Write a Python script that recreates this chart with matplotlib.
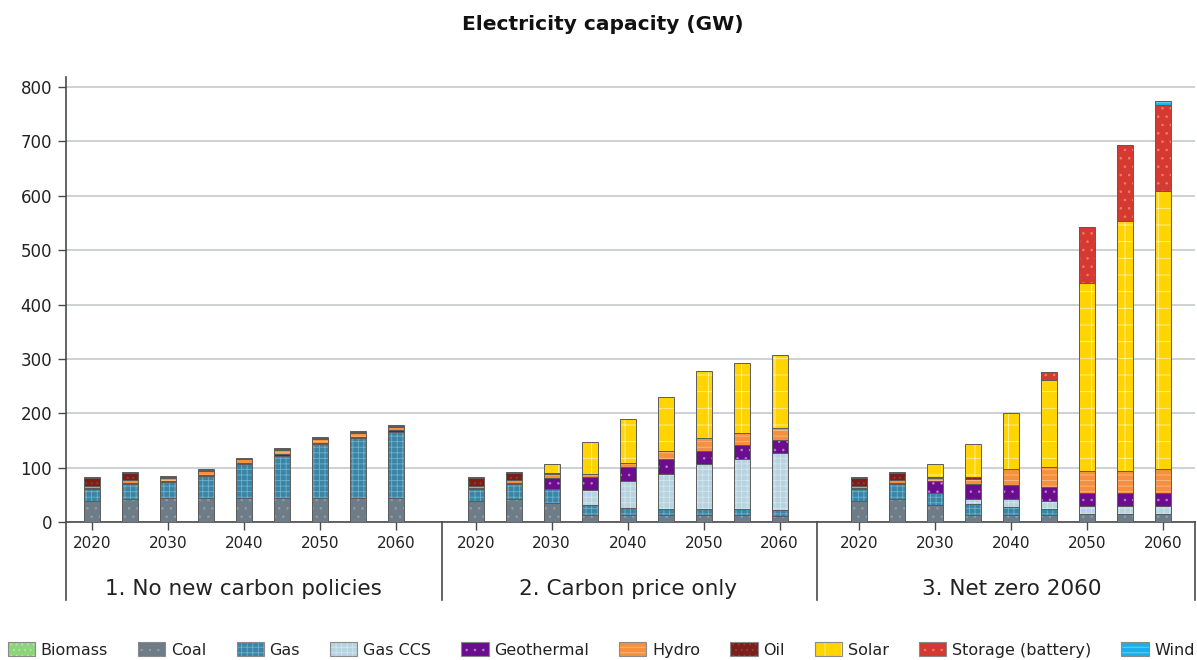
import numpy as np
import matplotlib.pyplot as plt
from matplotlib.patches import Patch
from matplotlib.legend_handler import HandlerTuple
from matplotlib.transforms import blended_transform_factory

plt.rcParams['font.family'] = ['DejaVu Sans']
plt.rcParams['hatch.linewidth'] = 0.6

years = [2020, 2025, 2030, 2035, 2040, 2045, 2050, 2055, 2060]
scenarios = ["1. No new carbon policies", "2. Carbon price only", "3. Net zero 2060"]

# GW, 9 years per scenario (rows: scenario 1, 2, 3)
coal = [38, 43, 45, 45, 44, 44, 44, 44, 44,
        38, 43, 35, 12, 13, 13, 13, 13, 11,
        38, 43, 31, 13, 13, 13, 14, 14, 14]
gas = [22, 26, 28, 40, 62, 77, 100, 111, 121,
       22, 26, 25, 20, 13, 11, 11, 11, 11.5,
       22, 26, 22, 20, 15, 11, 0, 0, 0]
gas_ccs = [0, 0, 0, 0, 0, 0, 0, 0, 0,
           0, 0, 0, 26, 49, 64, 83, 92, 104,
           0, 0, 0, 10, 15, 15, 15, 15, 15]
geothermal = [2, 3, 3, 2, 2, 4, 2, 2, 4,
              2, 3, 21, 24, 26, 27, 24, 25, 24,
              2, 3, 22, 26, 25, 25, 25, 24, 24]
hydro = [4, 5, 5, 7, 7, 7, 7, 7, 6,
         4, 5, 7, 6, 7, 15, 23, 22, 22,
         4, 5, 6, 11, 30, 38, 39, 40, 45]
oil = [15, 14, 2, 1.5, 1, 2, 1, 1, 1,
       15, 14, 2, 0, 0, 0, 0, 0, 0,
       15, 14, 2, 3, 0, 0, 0, 0, 0]
solar = [0, 0, 0, 0, 0, 0, 0, 0, 0,
         0, 0, 17, 59, 82, 99, 123, 130, 134,
         0, 0, 24, 60, 102, 160, 347, 461, 511]
storage = [0, 0, 0, 0, 0, 0, 0, 0, 0,
           0, 0, 0, 0, 0, 0, 0, 0, 0,
           0, 0, 0, 0, 0, 14, 103, 139, 158]
wind = [0, 0, 0, 0, 0, 0, 0, 0, 0,
        0, 0, 0, 0, 0, 0, 0, 0, 0,
        0, 0, 0, 0, 0, 0, 0, 0, 7.5]
biomass = [1.5, 1.5, 1.5, 1.5, 1.5, 1.5, 1.5, 1.5, 1.5,
           1.5, 1.5, 0, 0, 0, 0, 0, 0, 0,
           1.5, 1.5, 0, 0, 0, 0, 0, 0, 0]

# name, values, fill, hatch, hatch colour  (stack order bottom -> top)
series = [
    ("Coal", coal, "#6d7c87", "..", "#8f9ca6"),
    ("Gas", gas, "#3a85a5", "+++", "#70afca"),
    ("Gas CCS", gas_ccs, "#b6d3df", "+++", "#d3e6ee"),
    ("Geothermal", geothermal, "#6a0e8e", "..", "#b57fcf"),
    ("Hydro", hydro, "#f4903e", "---", "#f9bd8a"),
    ("Oil", oil, "#7c1f1c", "...", "#9b3c36"),
    ("Solar", solar, "#ffd400", "+", "#fff3a6"),
    ("Storage (battery)", storage, "#d5392f", "..", "#ec7d74"),
    ("Wind", wind, "#1eaee9", "---", "#78d3f5"),
    ("Biomass", biomass, "#8ed47a", "...", "#b7e8a8"),
]
legend_order = ["Biomass", "Coal", "Gas", "Gas CCS", "Geothermal", "Hydro",
                "Oil", "Solar", "Storage (battery)", "Wind"]

outline = "#5c5c5c"
grid_c = "#c9ced3"
axis_c = "#4a4a4a"
text_c = "#222222"

fig = plt.figure(figsize=(11.97, 6.6), dpi=100)
W, H = 1197, 660
ax = fig.add_axes([66 / W, (H - 522) / H, (1195 - 66) / W, (522 - 77) / H])

n = len(years)
x = np.array([g * 10.1 + i for g in range(len(scenarios)) for i in range(n)])
width = 0.42

bottom = np.zeros(len(x))
for name, vals, fc, hatch, hc in series:
    v = np.array(vals, dtype=float)
    ax.bar(x, v, width, bottom=bottom, color=fc, linewidth=0, zorder=3)
    ax.bar(x, v, width, bottom=bottom, fill=False, hatch=hatch,
           edgecolor=hc, linewidth=0, zorder=3)
    mask = v > 0
    ax.bar(x[mask], v[mask], width, bottom=bottom[mask], fill=False,
           edgecolor=outline, linewidth=0.7, zorder=4)
    bottom += v

ax.set_xlim(-0.68, 29.03)
ax.set_ylim(0, 818.4)
ax.set_yticks(range(0, 801, 100))
ax.tick_params(axis='y', length=6, width=1, color=axis_c, pad=4,
               labelsize=12, labelcolor=text_c)
ax.grid(axis='y', color=grid_c, linewidth=1.3, zorder=0)

xt = [g * 10.1 + i for g in range(len(scenarios)) for i in range(0, n, 2)]
ax.set_xticks(xt)
ax.set_xticklabels([str(years[i]) for g in range(len(scenarios)) for i in range(0, n, 2)])
ax.tick_params(axis='x', length=6, width=1, color=axis_c, pad=4,
               labelsize=11, labelcolor=text_c)

for s in ["top", "right"]:
    ax.spines[s].set_visible(False)
for s in ["left", "bottom"]:
    ax.spines[s].set_color(axis_c)
    ax.spines[s].set_linewidth(1.2)

low = -(600 - 522) / (522 - 77)
trans = blended_transform_factory(ax.transData, ax.transAxes)
ax.plot([0, 0], [0, low], transform=ax.transAxes, color=axis_c, lw=1.2, clip_on=False)
ax.plot([1, 1], [0, low], transform=ax.transAxes, color=axis_c, lw=1.2, clip_on=False)
for sx in [9.21, 19.08]:
    ax.plot([sx, sx], [0, low], transform=trans, color=axis_c, lw=1.2, clip_on=False)

for g, name in enumerate(scenarios):
    ax.text(g * 10.1 + 4, -(589 - 522) / (522 - 77), name, transform=trans,
            ha='center', va='center', fontsize=15.5, color=text_c)

fig.text(0.504, 1 - 25 / H, "Electricity capacity (GW)", ha='center', va='center',
         fontsize=14.5, fontweight='bold', color="#111111")

lookup = {s[0]: s for s in series}
handles = []
for name in legend_order:
    _, _, fc, hatch, hc = lookup[name]
    handles.append((Patch(facecolor=fc, linewidth=0),
                    Patch(fill=False, hatch=hatch, edgecolor=hc, linewidth=0),
                    Patch(fill=False, edgecolor="#8a8a8a", linewidth=0.8)))
fig.legend(handles, legend_order, handler_map={tuple: HandlerTuple(ndivide=1, pad=0)},
           loc='center left', bbox_to_anchor=(8 / W, 10 / H), ncol=10, frameon=False,
           fontsize=11.5, handlelength=1.7, handleheight=0.95, handletextpad=0.35,
           columnspacing=1.9, borderpad=0, borderaxespad=0, labelcolor=text_c)

fig.savefig("out.png", dpi=100)
